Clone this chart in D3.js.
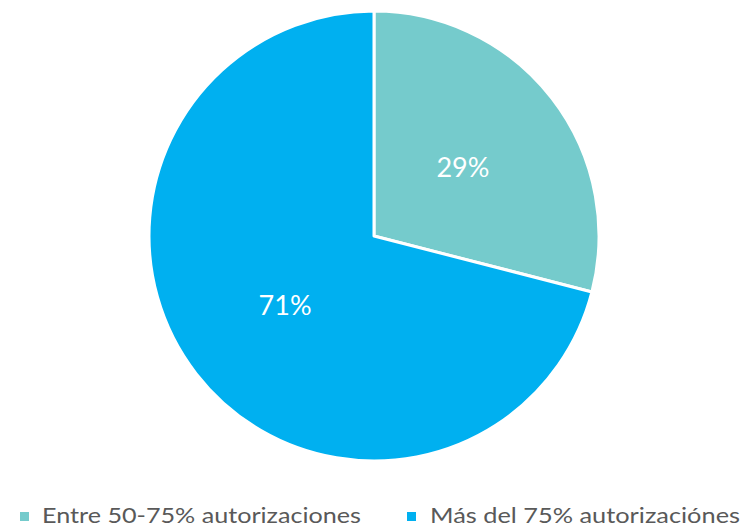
<!DOCTYPE html>
<html>
<head>
<meta charset="utf-8">
<script src="https://cdn.jsdelivr.net/npm/d3@7"></script>
<style>
  body { margin: 0; background: #fff; }
  #chart { width: 744px; height: 527px; }
</style>
</head>
<body>
<div id="chart"></div>
<script>
const categories = ['Entre 50-75% autorizaciones', 'Más del 75% autorizaciónes'];
const values = [29, 71];
const colors = ['#75CBCC', '#00B0F0'];

const width = 744;
const height = 527;
const cx = 374;
const cy = 236;
const radius = 225;

const svg = d3.select('#chart')
    .append('svg')
    .attr('width', width)
    .attr('height', height);

const pie = d3.pie().sort(null).value(d => d);
const arc = d3.arc().innerRadius(0).outerRadius(radius);
const labelArc = d3.arc().innerRadius(radius * 0.5).outerRadius(radius * 0.5);

const arcs = pie(values);

const g = svg.append('g').attr('transform', `translate(${cx},${cy})`);

g.selectAll('path')
    .data(arcs)
    .enter()
    .append('path')
    .attr('d', arc)
    .attr('fill', (d, i) => colors[i])
    .attr('stroke', '#fff')
    .attr('stroke-width', 3)
    .attr('stroke-linejoin', 'round');

g.selectAll('text.pct')
    .data(arcs)
    .enter()
    .append('text')
    .attr('class', 'pct')
    .attr('transform', d => `translate(${labelArc.centroid(d)})`)
    .attr('text-anchor', 'middle')
    .attr('dy', '0.36em')
    .attr('font-family', 'Lato, "Open Sans", sans-serif')
    .attr('font-size', '27px')
    .attr('fill', '#fff')
    .text(d => d.data + '%');

// legend
const legendX = [20, 407];
const legendW = [319, 310];
const legend = svg.selectAll('g.legend')
    .data(categories)
    .enter()
    .append('g')
    .attr('class', 'legend')
    .attr('transform', (d, i) => `translate(${legendX[i]},0)`);

legend.append('rect')
    .attr('x', 0)
    .attr('y', 512)
    .attr('width', 9)
    .attr('height', 9)
    .attr('fill', (d, i) => colors[i]);

legend.append('text')
    .attr('x', (d, i) => i === 0 ? 22 : 23)
    .attr('y', 523)
    .attr('font-family', 'Lato, "Open Sans", sans-serif')
    .attr('font-size', '22px')
    .attr('fill', '#595959')
    .attr('textLength', (d, i) => legendW[i])
    .attr('lengthAdjust', 'spacingAndGlyphs')
    .text(d => d);
</script>
</body>
</html>
